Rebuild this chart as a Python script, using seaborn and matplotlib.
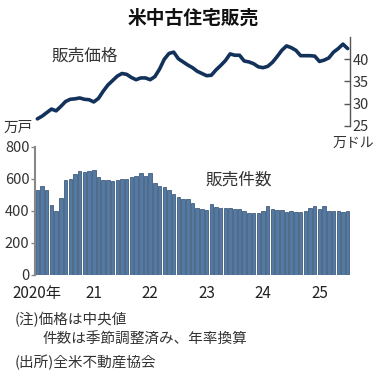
import numpy as np
import pandas as pd
import matplotlib
matplotlib.use("Agg")
import matplotlib.pyplot as plt
import seaborn as sns

# 月次データ（2020年1月〜2025年7月）
sales = [530, 558, 530, 440, 400, 480, 592, 600, 632, 652, 645, 648,
         656, 610, 592, 592, 585, 595, 603, 597, 614, 618, 640, 618,
         640, 578, 555, 548, 532, 508, 487, 477, 474, 448, 420, 412,
         406, 444, 425, 418, 418, 416, 410, 410, 402, 390, 390, 390,
         400, 430, 412, 408, 405, 395, 398, 395, 393, 403, 418, 430,
         410, 430, 400, 400, 402, 394, 400]
price = [26.6, 27.2, 28.0, 28.8, 28.4, 29.4, 30.5, 31.0, 31.1, 31.3, 31.0, 30.9,
         30.4, 31.2, 32.8, 34.2, 35.2, 36.2, 36.8, 36.6, 35.9, 35.4, 35.8, 35.8,
         35.4, 36.1, 37.8, 40.0, 41.3, 41.6, 40.1, 39.4, 38.7, 38.1, 37.3, 36.8,
         36.3, 36.4, 37.6, 38.6, 39.7, 41.2, 40.9, 40.9, 39.6, 39.4, 39.0, 38.3,
         38.1, 38.4, 39.3, 40.6, 42.0, 43.0, 42.6, 42.0, 40.8, 40.8, 40.8, 40.7,
         39.5, 39.8, 40.3, 41.6, 42.4, 43.4, 42.4]
year_ticks = [0, 12, 24, 36, 48, 60]
year_labels = ["2020年", "21", "22", "23", "24", "25"]

df = pd.DataFrame({"month": np.arange(len(sales)), "sales": sales, "price": price})

sns.set_style("white")
plt.rcParams["font.family"] = ["Noto Sans CJK JP", "DejaVu Sans"]

W, H = 380, 376
fig = plt.figure(figsize=(W / 100, H / 100), dpi=100)
ax = fig.add_axes([35 / W, 101 / H, 315 / W, 238 / H])

# 販売件数（棒）
sns.barplot(data=df, x="month", y="sales", ax=ax, color="#5479a2", saturation=1,
            width=0.74, edgecolor="#2b4a6e", linewidth=0.5)
ax.set_xlim(-0.5, len(sales) - 0.5)
ax.set_ylim(0, 1487.5)
ax.set_xlabel("")
ax.set_ylabel("")
ax.set_yticks([0, 200, 400, 600, 800])
ax.tick_params(axis="y", labelsize=10.5, length=3, width=1, color="#888888",
               labelcolor="#333333", pad=1, left=True)
ax.set_xticks(year_ticks)
ax.set_xticklabels(year_labels)
ax.tick_params(axis="x", labelsize=11, length=0, pad=7, labelcolor="#222222")
for s in ["top", "right", "bottom"]:
    ax.spines[s].set_visible(False)
ax.spines["left"].set_bounds(0, 800)
ax.spines["left"].set_color("#888888")
ax.spines["left"].set_linewidth(1.5)

# 販売価格（線）
ax2 = ax.twinx()
sns.lineplot(data=df, x="month", y="price", ax=ax2, color="#13325b", linewidth=2.6)
ax2.set_ylim(-8.5, 45)
ax2.set_ylabel("")
ax2.set_yticks([25, 30, 35, 40])
ax2.tick_params(axis="y", direction="in", length=4, width=1, color="#555555",
                labelsize=10.5, labelcolor="#333333", pad=2, right=True)
for s in ["top", "left", "bottom"]:
    ax2.spines[s].set_visible(False)
ax2.spines["right"].set_bounds(25, 45)
ax2.spines["right"].set_color("#555555")
ax2.spines["right"].set_linewidth(1)

# テキスト
fig.text(193 / W, 1 - 18 / H, "米中古住宅販売", ha="center", va="center",
         fontsize=13.5, fontweight="bold", color="#111111")
fig.text(51 / W, 1 - 56 / H, "販売価格", ha="left", va="center", fontsize=12, color="#333333")
fig.text(205 / W, 1 - 180 / H, "販売件数", ha="left", va="center", fontsize=12, color="#333333")
fig.text(4 / W, 1 - 128 / H, "万戸", ha="left", va="center", fontsize=10.5, color="#333333")
fig.text(374 / W, 1 - 143 / H, "万ドル", ha="right", va="center", fontsize=10, color="#333333")
fig.text(15 / W, 1 - 320 / H, "(注)価格は中央値", ha="left", va="center", fontsize=10.5, color="#333333")
fig.text(43 / W, 1 - 340 / H, "件数は季節調整済み、年率換算", ha="left", va="center",
         fontsize=10.5, color="#333333")
fig.text(15 / W, 1 - 362 / H, "(出所)全米不動産協会", ha="left", va="center", fontsize=10.5, color="#333333")

fig.savefig("out.png", dpi=100, facecolor="white")
